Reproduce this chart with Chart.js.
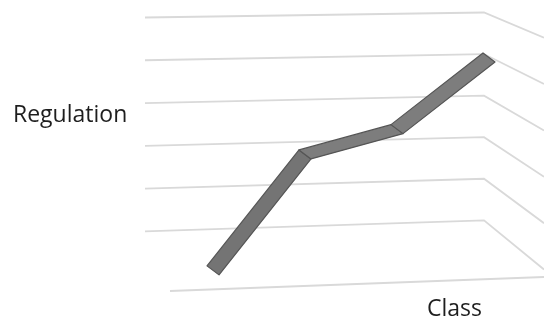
<!DOCTYPE html>
<html>
<head>
<meta charset="utf-8">
<script src="https://cdn.jsdelivr.net/npm/chart.js@4"></script>
<style>
  html, body { margin: 0; padding: 0; background: #fff; }
  #wrap { position: relative; width: 544px; height: 323px; }
  .lbl { position: absolute; font-family: "Open Sans", sans-serif; font-size: 23px; line-height: 31px; color: #1e1e1e; }
</style>
</head>
<body>
<div id="wrap">
  <canvas id="chart" width="544" height="323"></canvas>
  <div class="lbl" style="left:13px; top:98px;">Regulation</div>
  <div class="lbl" style="left:427px; top:292px;">Class</div>
</div>
<script>
// 3D-style line (ribbon) with perspective wall gridlines
const categories = ["1", "2", "3", "4"];
const regulation = [0.05, 2.8, 3.4, 5.1];
const gridLevels = [1, 2, 3, 4, 5, 6];

// back wall + side wall gridlines, drawn from the y scale
const wallGrid = {
  id: "wallGrid",
  beforeDatasetsDraw(chart) {
    const ctx = chart.ctx, y = chart.scales.y;
    ctx.save();
    ctx.strokeStyle = "#d9d9d9";
    ctx.lineWidth = 1.8;
    gridLevels.forEach(v => {
      const y0 = y.getPixelForValue(v);
      const tilt = 2.5 + (6 - v) * 0.6;
      const slope = 0.42 + (6 - v) * 0.08;
      const xr = 484, yr = y0 - tilt;
      ctx.beginPath();
      ctx.moveTo(145, y0 + tilt);
      ctx.lineTo(xr, yr);
      ctx.lineTo(544, yr + (544 - xr) * slope);
      ctx.stroke();
    });
    // floor front edge
    const yf = y.getPixelForValue(0);
    ctx.beginPath();
    ctx.moveTo(170, yf + 23);
    ctx.lineTo(544, yf + 9);
    ctx.stroke();
    ctx.restore();
  }
};

// extrude the line into a flat ribbon
const ribbon = {
  id: "ribbon",
  afterDatasetsDraw(chart) {
    const ctx = chart.ctx;
    const pts = chart.getDatasetMeta(0).data;
    const dx = 12, dy = 9;
    ctx.save();
    ctx.lineJoin = "round";
    for (let i = 0; i < pts.length - 1; i++) {
      const a = pts[i], b = pts[i + 1];
      ctx.beginPath();
      ctx.moveTo(a.x, a.y);
      ctx.lineTo(b.x, b.y);
      ctx.lineTo(b.x + dx, b.y + dy);
      ctx.lineTo(a.x + dx, a.y + dy);
      ctx.closePath();
      ctx.fillStyle = i === 0 ? "#747474" : "#7d7d7d";
      ctx.fill();
      ctx.strokeStyle = "#555555";
      ctx.lineWidth = 1.2;
      ctx.stroke();
    }
    ctx.restore();
  }
};

new Chart(document.getElementById("chart"), {
  type: "line",
  data: {
    labels: categories,
    datasets: [{ label: "Regulation", data: regulation, showLine: false, pointRadius: 0, borderWidth: 0 }]
  },
  options: {
    responsive: false,
    animation: false,
    layout: { padding: { left: 161, right: 15, top: 15, bottom: 55 } },
    scales: {
      x: { display: false, offset: true },
      y: { display: false, min: 0, max: 6 }
    },
    plugins: { legend: { display: false }, tooltip: { enabled: false } }
  },
  plugins: [wallGrid, ribbon]
});
</script>
</body>
</html>
